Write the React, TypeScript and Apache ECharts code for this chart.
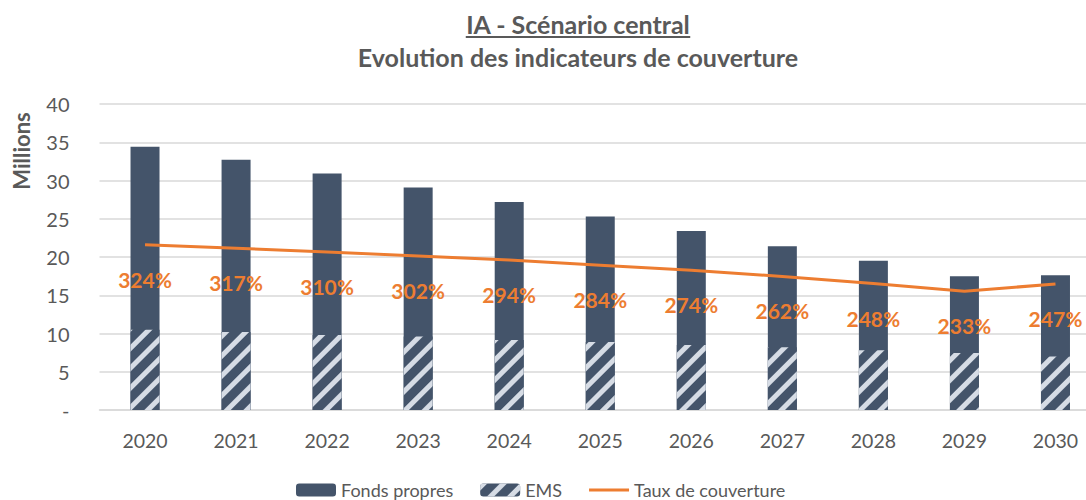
import React, { useEffect, useRef } from "react";
import * as echarts from "echarts";

const years = ["2020", "2021", "2022", "2023", "2024", "2025", "2026", "2027", "2028", "2029", "2030"];
const fondsPropres = [34.4, 32.7, 30.9, 29.1, 27.2, 25.3, 23.4, 21.4, 19.5, 17.5, 17.6];
const ems = [10.5, 10.2, 9.8, 9.6, 9.15, 8.9, 8.5, 8.2, 7.8, 7.45, 7.0];
const taux = [324, 317, 310, 302, 294, 284, 274, 262, 248, 233, 247];

const titleLine1 = "IA - Scénario central";
const titleLine2 = "Evolution des indicateurs de couverture";
const yName = "Millions";

const FONT = "Lato, 'Open Sans', sans-serif";
const GREY = "#595959";
const NAVY = "#44546A";
const ORANGE = "#ED7D31";

export default function App() {
  const ref = useRef<HTMLDivElement>(null);
  useEffect(() => {
    if (!ref.current) return;
    const chart = echarts.init(ref.current, null, { renderer: "svg" });
    const titleFont = `bold 25px ${FONT}`;
    const t = new echarts.graphic.Text({ style: { text: titleLine1, font: titleFont } });
    const w1 = t.getBoundingRect().width;
    const cx = 578;
    chart.setOption({
      animation: false,
      textStyle: { fontFamily: FONT },
      grid: { left: 99.5, right: 0, top: 104, bottom: 90 },
      legend: {
        top: 476,
        left: 291,
        itemWidth: 40,
        itemHeight: 13,
        itemGap: 27,
        textStyle: { fontSize: 18, color: GREY, fontFamily: FONT },
        data: [
          { name: "Fonds propres" },
          { name: "EMS" },
          { name: "Taux de couverture", icon: "path://M0,0 L40,0 L40,3 L0,3 Z" },
        ],
      },
      graphic: [
        {
          type: "text",
          x: cx,
          y: 24,
          style: { text: titleLine1, font: titleFont, fill: GREY, textAlign: "center", textVerticalAlign: "middle" },
        },
        {
          type: "line",
          shape: { x1: cx - w1 / 2, y1: 37, x2: cx + w1 / 2, y2: 37 },
          style: { stroke: GREY, lineWidth: 2 },
        },
        {
          type: "text",
          x: cx,
          y: 57,
          style: { text: titleLine2, font: titleFont, fill: GREY, textAlign: "center", textVerticalAlign: "middle" },
        },
        {
          type: "text",
          x: 21,
          y: 151,
          rotation: Math.PI / 2,
          style: { text: yName, font: `bold 22px ${FONT}`, fill: GREY, textAlign: "center", textVerticalAlign: "middle" },
        },
      ],
      xAxis: [
        {
          type: "category",
          data: years,
          axisLine: { lineStyle: { color: "#D9D9D9", width: 1.5 } },
          axisTick: { show: false },
          axisLabel: { fontSize: 19.5, color: GREY, margin: 20 },
        },
      ],
      yAxis: [
        {
          type: "value",
          min: 0,
          max: 40,
          interval: 5,
          axisLine: { show: false },
          axisTick: { show: false },
          splitLine: { lineStyle: { color: "#D9D9D9", width: 1.5 } },
          axisLabel: {
            fontSize: 20,
            color: GREY,
            margin: 30,
            formatter: (v: number) => (v === 0 ? "-" : String(v)),
          },
        },
        {
          type: "value",
          min: 0,
          max: 600,
          show: false,
          splitLine: { show: false },
        },
      ],
      series: [
        {
          name: "Fonds propres",
          type: "bar",
          data: fondsPropres,
          barWidth: 29,
          itemStyle: { color: NAVY },
          z: 2,
        },
        {
          name: "EMS",
          type: "bar",
          data: ems,
          barWidth: 29,
          barGap: "-100%",
          itemStyle: {
            color: NAVY,
            decal: {
              symbol: "rect",
              symbolSize: 1,
              dashArrayX: [1, 0],
              dashArrayY: [5, 9],
              rotation: -Math.PI / 4,
              color: "#D6DCE5",
            },
          },
          z: 3,
        },
        {
          name: "Taux de couverture",
          type: "line",
          yAxisIndex: 1,
          data: taux,
          symbol: "circle",
          symbolSize: 0.1,
          lineStyle: { color: ORANGE, width: 3 },
          itemStyle: { color: ORANGE },
          label: {
            show: true,
            position: "bottom",
            distance: 24,
            formatter: "{c}%",
            color: ORANGE,
            fontWeight: "bold",
            fontSize: 21,
            fontFamily: FONT,
          },
          z: 5,
        },
      ],
    });
    return () => chart.dispose();
  }, []);
  return (
    <div style={{ position: "absolute", left: 0, top: 0, width: 1086, height: 500, overflow: "hidden" }}>
      <div ref={ref} style={{ width: 1101, height: 500 }} />
    </div>
  );
}
